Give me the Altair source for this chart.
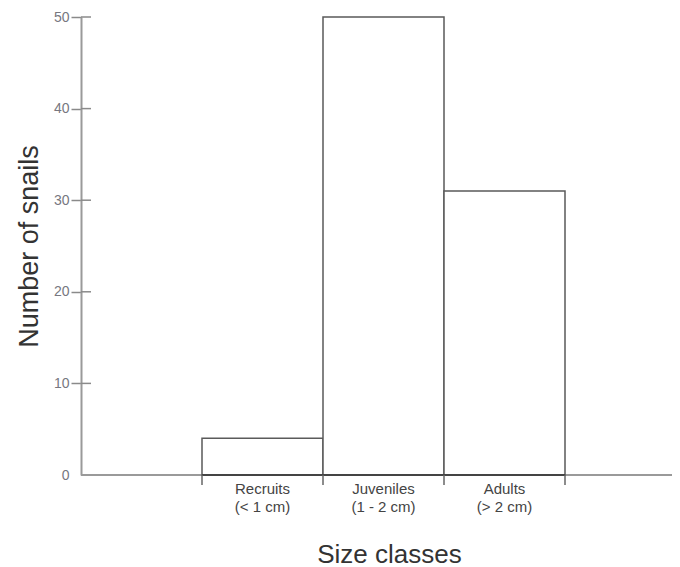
import altair as alt
import pandas as pd

# ---- data ----
classes = ["Recruits", "Juveniles", "Adults"]
size_ranges = ["(< 1 cm)", "(1 - 2 cm)", "(> 2 cm)"]
counts = [4, 50, 31]
y_ticks = [0, 10, 20, 30, 40, 50]

bars = pd.DataFrame({
    "cls": classes,
    "range": size_ranges,
    "label": [c + "\n" + r for c, r in zip(classes, size_ranges)],
    "count": counts,
    "start": [i + 1 for i in range(len(classes))],
    "end": [i + 2 for i in range(len(classes))],
    "mid": [i + 1.5 for i in range(len(classes))],
})
bounds = pd.DataFrame({"b": [i + 1 for i in range(len(classes) + 1)]})
ytick_df = pd.DataFrame({"v": [v for v in y_ticks if v > 0]})

W, H = 591, 458
FONT = "Liberation Sans"

xscale = alt.Scale(domain=[0, W / 121.0], nice=False, zero=False)
yscale = alt.Scale(domain=[0, 50], nice=False)

base = alt.Chart(bars)

x_axis_line = base.mark_rule(color="#9a9a9a", strokeWidth=2).encode(
    x=alt.value(0), x2=alt.value(W), y=alt.value(H)
)

rects = base.mark_rect(fill="white", stroke="#5a5a5a", strokeWidth=1.5).encode(
    x=alt.X("start:Q", scale=xscale,
            axis=alt.Axis(title="Size classes", labels=False, ticks=False,
                          domain=False, grid=False,
                          titleFont=FONT, titleFontSize=26,
                          titleFontWeight="normal", titleColor="#333333",
                          titleX=308, titleY=87, titleBaseline="alphabetic",
                          titleAlign="center")),
    x2="end:Q",
    y=alt.Y("count:Q", scale=yscale,
            axis=alt.Axis(title="Number of snails", values=y_ticks, grid=False,
                          domainColor="#9a9a9a", domainWidth=2,
                          tickColor="#8a8a8a", tickSize=10, tickWidth=1.5,
                          tickOpacity={"condition": {"test": "datum.value === 0", "value": 0}, "value": 1},
                          labelFont=FONT, labelFontSize=14, labelColor="#777780",
                          labelPadding=2,
                          titleFont=FONT, titleFontSize=27,
                          titleFontWeight="normal", titleColor="#333333",
                          titleX=-44, titleY=229, titleAngle=-90,
                          titleBaseline="alphabetic", titleAlign="center")),
    y2=alt.datum(0),
)

bottoms = base.mark_rule(color="#444444", strokeWidth=2).encode(
    x=alt.X("start:Q", scale=xscale), x2="end:Q", y=alt.value(H)
)

xticks = alt.Chart(bounds).mark_rule(color="#666666", strokeWidth=1.5).encode(
    x=alt.X("b:Q", scale=xscale), y=alt.value(H), y2=alt.value(H + 10)
)

yticks_in = alt.Chart(ytick_df).mark_rule(color="#8a8a8a", strokeWidth=1.5).encode(
    y=alt.Y("v:Q", scale=yscale), x=alt.value(0), x2=alt.value(10)
)

labels = base.mark_text(lineBreak="\n", baseline="top", align="center",
                        font=FONT, fontSize=15, lineHeight=18,
                        color="#444444").encode(
    x=alt.X("mid:Q", scale=xscale), y=alt.value(H + 7), text="label:N"
)

chart = alt.layer(x_axis_line, rects, bottoms, xticks, yticks_in, labels).properties(
    width=W, height=H,
    autosize=alt.AutoSizeParams(type="none"),
    padding={"left": 73, "top": 9, "right": 0, "bottom": 92},
).configure(
    background="white",
    view=alt.ViewConfig(strokeWidth=0, stroke="transparent"),
)

chart.save("out.html", embed_options={"renderer": "svg", "actions": False})
